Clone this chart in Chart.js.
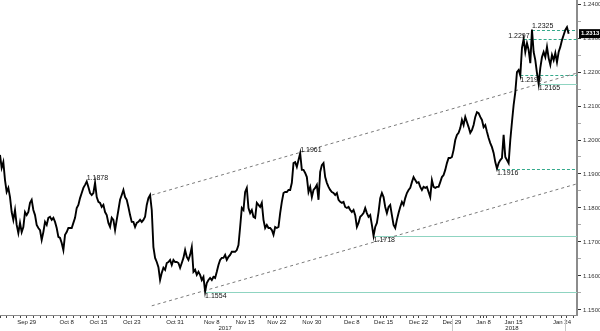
<!DOCTYPE html>
<html lang="en">
<head>
<meta charset="UTF-8">
<title>EUR/USD</title>
<script src="https://cdn.jsdelivr.net/npm/chart.js"></script>
<style>
  html, body { margin: 0; padding: 0; background: #fff; }
  .wrap { width: 600px; height: 331px; position: relative; }
</style>
</head>
<body>
<div class="wrap"><canvas id="fxChart"></canvas></div>
<script>
// 6-hour closes, about four bars per trading day, Sep 26 2017 -> Jan 25 2018
const closes = [
  1.1956,1.1918,1.1935,1.1882,1.1847,1.1859,1.1832,1.1788,1.1765,1.1794,
  1.1750,1.1726,1.1756,1.1729,1.1744,1.1788,1.1779,1.1788,1.1815,1.1824,
  1.1794,1.1779,1.1750,1.1741,1.1735,1.1706,1.1729,1.1759,1.1750,1.1771,
  1.1774,1.1765,1.1771,1.1759,1.1741,1.1715,1.1712,1.1697,1.1676,1.1721,
  1.1729,1.1741,1.1741,1.1741,1.1756,1.1771,1.1800,1.1809,1.1829,1.1844,
  1.1859,1.1868,1.1878,1.1862,1.1844,1.1838,1.1844,1.1874,1.1832,1.1818,
  1.1815,1.1803,1.1809,1.1788,1.1779,1.1756,1.1744,1.1771,1.1765,1.1735,
  1.1765,1.1794,
  1.1824,1.1838,1.1853,1.1832,1.1824,1.1803,1.1779,1.1759,1.1759,1.1744,
  1.1756,1.1759,1.1765,1.1759,1.1765,1.1774,1.1809,1.1829,1.1838,1.1794,
  1.1685,1.1653,1.1641,1.1626,1.1588,1.1609,1.1624,1.1618,1.1638,1.1641,
  1.1647,1.1632,1.1647,1.1641,1.1641,1.1638,1.1624,1.1638,1.1653,1.1676,
  1.1656,1.1647,1.1662,1.1685,1.1612,1.1618,1.1603,1.1612,1.1603,1.1588,
  1.1597,1.1554,1.1579,1.1588,1.1594,1.1588,1.1597,1.1594,1.1612,1.1632,
  1.1647,1.1653,1.1653,1.1662,1.1647,1.1656,1.1662,1.1671,1.1671,
  1.1671,1.1676,1.1691,1.1744,1.1800,1.1794,1.1847,1.1859,1.1800,1.1785,
  1.1794,1.1774,1.1771,1.1815,1.1809,1.1803,1.1815,1.1765,1.1741,1.1750,
  1.1741,1.1741,1.1735,1.1721,1.1744,1.1741,1.1744,1.1785,1.1818,1.1844,
  1.1847,1.1847,1.1853,1.1853,1.1874,1.1932,1.1935,1.1921,1.1941,1.1961,
  1.1912,1.1912,1.1903,1.1891,1.1847,1.1862,1.1832,1.1853,1.1859,1.1868,
  1.1824,1.1906,1.1926,1.1932,1.1891,1.1874,1.1862,1.1853,1.1847,1.1844,
  1.1838,1.1844,1.1824,1.1818,1.1815,1.1818,
  1.1803,1.1800,1.1803,1.1794,1.1788,1.1794,1.1779,1.1744,1.1756,1.1774,
  1.1779,1.1785,1.1800,1.1785,1.1774,1.1779,1.1750,1.1718,1.1744,1.1756,
  1.1788,1.1829,1.1844,1.1832,1.1803,1.1785,1.1803,1.1809,1.1779,1.1750,
  1.1741,1.1765,1.1785,1.1803,1.1818,1.1809,1.1829,1.1844,1.1853,1.1859,
  1.1876,1.1891,1.1882,1.1874,1.1876,1.1862,1.1853,1.1862,1.1859,1.1862,
  1.1847,1.1832,1.1882,1.1862,1.1859,1.1862,1.1862,1.1876,1.1891,1.1897,
  1.1912,1.1932,1.1947,1.1947,1.1950,1.1971,1.2000,1.2015,1.2021,1.2035,
  1.2059,
  1.2044,1.2068,1.2053,1.2038,1.2021,1.2029,1.2044,1.2068,1.2082,1.2079,
  1.2068,1.2059,1.2038,1.2044,1.2024,1.2006,1.1991,1.1979,1.1962,1.1935,
  1.1916,1.1932,1.1941,1.1947,1.2015,1.1950,1.1941,1.1932,1.2000,1.2053,
  1.2103,1.2141,1.2200,1.2206,1.2190,1.2271,1.2297,1.2259,1.2285,1.2265,
  1.2226,1.2325,1.2259,1.2235,1.2197,1.2165,1.2212,1.2244,1.2259,1.2244,
  1.2274,1.2241,1.2221,1.2250,1.2235,1.2256,1.2229,1.2259,1.2274,1.2294,
  1.2309,1.2324,1.2332,1.2313
];

// channel lines (bar index, price)
const upperChannel = [{ x: 91, y: 1.1838 }, { x: 346, y: 1.2197 }];
const lowerChannel = [{ x: 91, y: 1.1512 }, { x: 346, y: 1.1871 }];

// marked highs and lows
const markValues = [1.1878, 1.1961, 1.1554, 1.1718, 1.1916, 1.2190, 1.2165, 1.2297, 1.2325];
const markBars = [52, 180, 123, 224, 298, 312, 323, 314, 319];

// horizontal levels, drawn from the bar to the right edge
const levelValues = [1.1554, 1.1718, 1.1916, 1.2165, 1.2190, 1.2297, 1.2325];
const levelBars = [123, 224, 298, 323, 312, 314, 319];
const levelDashed = [false, false, true, false, true, true, true];

// x axis
const dateLabels = ['Sep 29', 'Oct 8', 'Oct 15', 'Oct 23', 'Oct 31', 'Nov 8', 'Nov 15', 'Nov 22',
  'Nov 30', 'Dec 8', 'Dec 15', 'Dec 22', 'Dec 29', 'Jan 8', 'Jan 15', 'Jan 24'];
const dateBars = [16, 40, 59, 79, 105, 127, 147, 166, 187, 211, 230, 251, 271, 290, 308, 337];
const yearLabels = ['2017', '2018'];
const yearBars = [135, 307];
const yearBreaks = [271, 339];

const lastPrice = 1.2313;

const FONT = 'Liberation Sans';

const xTicks = dateBars.slice();
for (let b = 0; b <= 346; b += 4) {
  if (dateBars.every(d => Math.abs(d - b) > 1.5)) xTicks.push(b);
}
xTicks.sort((a, b) => a - b);

const yTicks = [];
for (let k = 0; k <= 18; k++) yTicks.push(+(1.15 + k * 0.005).toFixed(3));
const isMajor = v => Math.abs(v * 100 - Math.round(v * 100)) < 1e-6;

const markSide = ['above', 'above', 'below', 'below', 'below', 'below', 'below', 'aboveLeft', 'above'];

const annotations = {
  id: 'annotations',
  beforeDatasetsDraw(chart) {
    const { ctx, chartArea: area, scales: { x, y } } = chart;
    levelValues.forEach((v, i) => {
      const py = Math.round(y.getPixelForValue(v)) + 0.5;
      ctx.save();
      ctx.strokeStyle = levelDashed[i] ? '#34a98b' : '#8fd4c1';
      ctx.lineWidth = 1;
      ctx.setLineDash(levelDashed[i] ? [3, 2] : []);
      ctx.beginPath();
      ctx.moveTo(x.getPixelForValue(levelBars[i]), py);
      ctx.lineTo(area.right, py);
      ctx.stroke();
      ctx.restore();
    });
  },
  afterDatasetsDraw(chart) {
    const { ctx, scales: { x, y } } = chart;
    ctx.save();
    ctx.font = '7px "' + FONT + '"';
    ctx.fillStyle = '#111';
    markValues.forEach((v, i) => {
      const px = x.getPixelForValue(markBars[i]);
      const py = y.getPixelForValue(v);
      const side = markSide[i];
      if (side === 'below') {
        ctx.textAlign = 'left';
        ctx.textBaseline = 'top';
        ctx.fillText(v.toFixed(4), px, py + 1);
      } else if (side === 'aboveLeft') {
        ctx.textAlign = 'right';
        ctx.textBaseline = 'bottom';
        ctx.fillText(v.toFixed(4), px + 6, py);
      } else {
        ctx.textAlign = 'left';
        ctx.textBaseline = 'bottom';
        ctx.fillText(v.toFixed(4), px, py);
      }
    });
    ctx.restore();
  },
  afterDraw(chart) {
    const { ctx, chartArea: area, scales: { x, y } } = chart;
    ctx.save();
    // year row
    ctx.font = '6px "' + FONT + '"';
    ctx.fillStyle = '#222';
    ctx.textAlign = 'center';
    ctx.textBaseline = 'middle';
    yearLabels.forEach((t, i) => ctx.fillText(t, x.getPixelForValue(yearBars[i]), area.bottom + 13));
    ctx.strokeStyle = '#c8c8c8';
    ctx.lineWidth = 1;
    yearBreaks.forEach(b => {
      const px = Math.round(x.getPixelForValue(b)) + 0.5;
      ctx.beginPath();
      ctx.moveTo(px, area.bottom + 4);
      ctx.lineTo(px, chart.height);
      ctx.stroke();
    });
    // last price tag
    const py = y.getPixelForValue(lastPrice);
    ctx.fillStyle = '#000';
    ctx.fillRect(area.right + 2, py - 4.5, chart.width - area.right - 2, 9);
    ctx.fillStyle = '#fff';
    ctx.font = 'bold 6px "' + FONT + '"';
    ctx.textAlign = 'left';
    ctx.fillText(lastPrice.toFixed(4), area.right + 4, py);
    ctx.restore();
  }
};

new Chart(document.getElementById('fxChart'), {
  type: 'line',
  data: {
    datasets: [
      {
        data: closes.map((v, i) => ({ x: i, y: v })),
        borderColor: '#000',
        borderWidth: 1.9,
        pointRadius: 0,
        tension: 0
      },
      {
        data: upperChannel,
        borderColor: '#7a7a7a',
        borderWidth: 1,
        borderDash: [3, 3],
        pointRadius: 0
      },
      {
        data: lowerChannel,
        borderColor: '#7a7a7a',
        borderWidth: 1,
        borderDash: [3, 3],
        pointRadius: 0
      }
    ]
  },
  options: {
    responsive: true,
    maintainAspectRatio: false,
    animation: false,
    devicePixelRatio: 1,
    layout: { padding: 0 },
    plugins: { legend: { display: false }, tooltip: { enabled: false } },
    scales: {
      x: {
        type: 'linear',
        min: 0,
        max: 346,
        grid: { drawOnChartArea: false, tickLength: 3, tickColor: '#444' },
        border: { color: '#8a8a8a', width: 1 },
        ticks: {
          autoSkip: false,
          maxRotation: 0,
          padding: 1,
          color: '#222',
          font: { family: FONT, size: 6 },
          callback: v => {
            const i = dateBars.indexOf(v);
            return i >= 0 ? dateLabels[i] : '';
          }
        },
        afterBuildTicks: s => { s.ticks = xTicks.map(v => ({ value: v })); },
        afterFit: s => { s.height = 16; s.paddingLeft = 0; s.paddingRight = 0; }
      },
      y: {
        type: 'linear',
        position: 'right',
        min: 1.1485,
        max: 1.2412,
        grid: {
          drawOnChartArea: false,
          tickLength: 4,
          tickColor: c => (c.tick && isMajor(c.tick.value)) ? '#333' : '#aaa'
        },
        border: { color: '#8c8c8c', width: 2 },
        ticks: {
          padding: 2,
          color: '#333',
          font: { family: FONT, size: 6 },
          callback: v => isMajor(v) ? v.toFixed(4) : ''
        },
        afterBuildTicks: s => { s.ticks = yTicks.map(v => ({ value: v })); },
        afterFit: s => { s.width = 23; s.paddingTop = 0; s.paddingBottom = 0; }
      }
    }
  },
  plugins: [annotations]
});
</script>
</body>
</html>
